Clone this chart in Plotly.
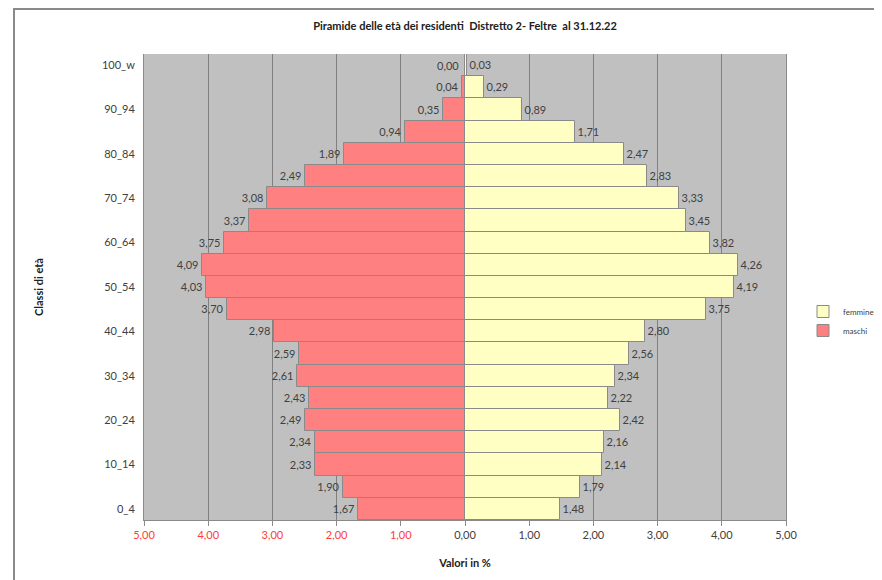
import plotly.graph_objects as go

categories = ["0_4", "5_9", "10_14", "15_19", "20_24", "25_29", "30_34", "35_39",
              "40_44", "45_49", "50_54", "55_59", "60_64", "65_69", "70_74", "75_79",
              "80_84", "85_89", "90_94", "95_99", "100_w"]
femmine = [1.48, 1.79, 2.14, 2.16, 2.42, 2.22, 2.34, 2.56, 2.80, 3.75, 4.19, 4.26,
           3.82, 3.45, 3.33, 2.83, 2.47, 1.71, 0.89, 0.29, 0.03]
maschi = [1.67, 1.90, 2.33, 2.34, 2.49, 2.43, 2.61, 2.59, 2.98, 3.70, 4.03, 4.09,
          3.75, 3.37, 3.08, 2.49, 1.89, 0.94, 0.35, 0.04, 0.00]
x_tick_values = [-5, -4, -3, -2, -1, 0, 1, 2, 3, 4, 5]
y_tick_labels = ["0_4", "10_14", "20_24", "30_34", "40_44", "50_54", "60_64",
                 "70_74", "80_84", "90_94", "100_w"]


def fmt(v):
    return f"{v:.2f}".replace(".", ",")


def tick_text(v):
    s = fmt(abs(v))
    if v < 0:
        return f"<span style='color:#FF3B3B'>{s}</span>"
    return s


FONT = "Lato, 'Open Sans', sans-serif"
# the page body adds an 8px offset; figure coordinates below are page coords - 8
W, H = 874, 572
L, T = 136, 46
PW, PH = 642, 466
R, B = W - L - PW, H - T - PH

fig = go.Figure()
fig.add_trace(go.Bar(
    y=categories, x=femmine, orientation="h", name="femmine",
    marker=dict(color="#FFFFC4", line=dict(color="#8A8A8A", width=1)),
    text=[fmt(v) for v in femmine], textposition="outside",
    textfont=dict(size=11, color="#404040", family=FONT),
    cliponaxis=False,
))
fig.add_trace(go.Bar(
    y=categories, x=[-v for v in maschi], orientation="h", name="maschi",
    marker=dict(color="#FF8080", line=dict(color="#8A8A8A", width=1)),
    text=[fmt(v) for v in maschi],
    textposition=["outside" if v > 0 else "none" for v in maschi],
    textfont=dict(size=11, color="#404040", family=FONT),
    cliponaxis=False,
))
# zero-length bars: label drawn on the left of the axis
for c, v in zip(categories, maschi):
    if v == 0:
        fig.add_annotation(x=-v, y=c, text=fmt(v), showarrow=False,
                           xanchor="right", xshift=-4,
                           font=dict(size=11, color="#404040", family=FONT))

fig.update_layout(
    width=W, height=H,
    margin=dict(l=L, r=R, t=T, b=B, autoexpand=False),
    paper_bgcolor="white",
    plot_bgcolor="#C0C0C0",
    barmode="relative",
    bargap=0,
    font=dict(family=FONT, size=11, color="#404040"),
    title=dict(text="<b>Piramide delle età dei residenti  Distretto 2- Feltre  al 31.12.22</b>",
               x=(465 - 8) / W, xanchor="center", y=1 - (26 - 8) / H, yanchor="middle",
               font=dict(size=11, color="#202020", family=FONT)),
    legend=dict(orientation="v", x=(803 - 8 - L) / PW, xanchor="left",
                y=(H - B - (321 - 8)) / PH, yanchor="middle",
                font=dict(size=8, color="#404040", family=FONT),
                bgcolor="rgba(0,0,0,0)", itemwidth=30, traceorder="normal",
                tracegroupgap=0),
)

fig.update_xaxes(
    range=[-5, 5],
    tickvals=x_tick_values,
    ticktext=[tick_text(v) for v in x_tick_values],
    showgrid=True, gridcolor="#808080", gridwidth=1,
    zeroline=False,
    showline=True, linecolor="#8A8A8A", linewidth=1,
    ticks="outside", ticklen=5, tickcolor="#8A8A8A",
    tickfont=dict(size=11, color="#404040", family=FONT),
    title=dict(text="<b>Valori in %</b>", font=dict(size=11, color="#202020", family=FONT),
               standoff=19),
)
fig.update_yaxes(
    type="category",
    categoryorder="array", categoryarray=categories,
    tickvals=y_tick_labels,
    ticktext=y_tick_labels,
    showgrid=False,
    showline=True, linecolor="#8A8A8A", linewidth=1, mirror=True,
    ticks="", ticklabelstandoff=6,
    tickfont=dict(size=11, color="#404040", family=FONT),
    title=dict(text="<b>Classi di età</b>", font=dict(size=11, color="#202020", family=FONT),
               standoff=56),
)

# chart-area border (top and left edges visible in the reference)
bx = (14 - 8 - L) / PW
by = (H - B - (8 - 8)) / PH
fig.add_shape(type="line", xref="paper", yref="paper",
              x0=bx, x1=1.5, y0=by - 0.002, y1=by - 0.002,
              line=dict(color="#8A8A8A", width=2))
fig.add_shape(type="line", xref="paper", yref="paper",
              x0=bx, x1=bx, y0=-0.3, y1=by,
              line=dict(color="#8A8A8A", width=2))

fig.write_html("out.html")
